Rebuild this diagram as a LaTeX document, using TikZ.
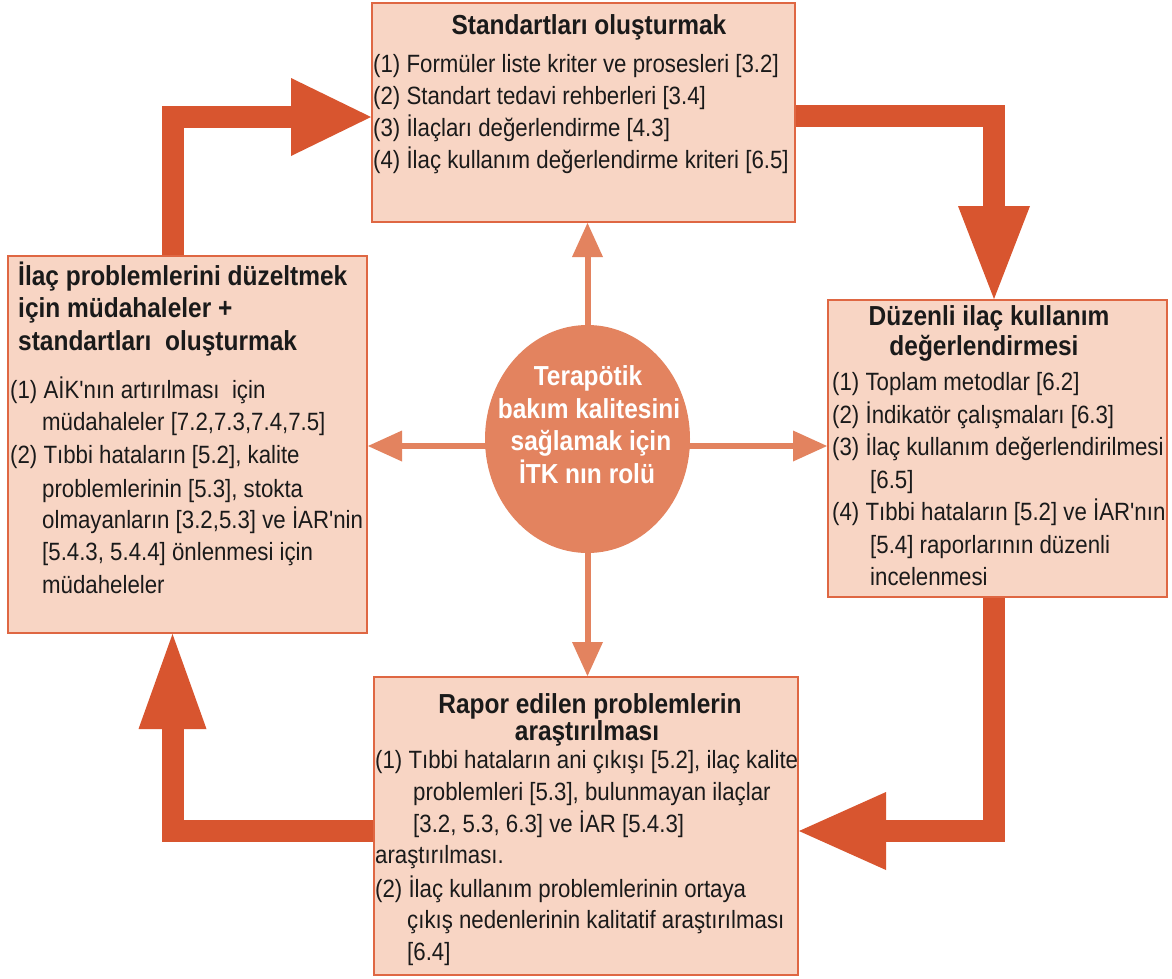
\documentclass[tikz,border=0pt]{standalone}
\usepackage{fontspec}
\newfontfamily\diagfont{Liberation Sans}[FakeStretch=0.89]
\usetikzlibrary{arrows.meta,shapes.geometric}

\definecolor{boxfill}{HTML}{F8D5C4}
\definecolor{boxline}{HTML}{DF6743}
\definecolor{flow}{HTML}{D8552F}
\definecolor{core}{HTML}{E3835F}
\definecolor{ink}{HTML}{1A1A1A}

\tikzset{
  box/.style={rectangle, draw=boxline, line width=2pt, fill=boxfill, inner sep=0pt},
  bodytxt/.style={anchor=base west, inner sep=0pt, text=ink,
    font=\diagfont\fontsize{25}{33}\selectfont},
  headtxt/.style={anchor=base, inner sep=0pt, text=ink,
    font=\diagfont\bfseries\fontsize{27.5}{33}\selectfont},
  headleft/.style={headtxt, anchor=base west},
  coretxt/.style={headtxt, text=white},
  flowarrow/.style 2 args={draw=flow, line width=22pt, line join=miter,
    -{Triangle[length=#1, width=#2, line width=0pt]}},
  linkarrow/.style={draw=core, line width=6pt,
    -{Triangle[length=34pt, width=31pt, line width=0pt]}},
}

\begin{document}
\begin{tikzpicture}[x=1pt, y=-1pt]
  \useasboundingbox (0,0) rectangle (1172,978);
  \fill[white] (0,0) rectangle (1172,978);

  % the four boxes of the cycle
  \node[box, minimum width=423pt, minimum height=219pt] (std) at (583.5,112.5) {};
  \node[box, minimum width=359pt, minimum height=377pt] (fix) at (187.5,444.5) {};
  \node[box, minimum width=339pt, minimum height=297pt] (due) at (997.5,448.5) {};
  \node[box, minimum width=424pt, minimum height=298pt] (rap) at (586,826) {};

  % central role
  \node[ellipse, fill=core, inner sep=0pt, minimum width=205pt, minimum height=228pt] (role) at (587.5,439) {};

  % links from the centre to each box
  \coordinate (hub) at (587.5,446);
  \draw[linkarrow] (hub) -- (hub -| fix.east);
  \draw[linkarrow] (hub) -- (hub -| due.west);
  \draw[linkarrow] (role.center) -- (role.center |- std.south);
  \draw[linkarrow] (role.center) -- (role.center |- rap.north);

  % the cycle arrows
  \coordinate (k1) at (172.5,117);
  \coordinate (k2) at (994,116);
  \coordinate (k3) at (994,831);
  \coordinate (k4) at (172.5,831);
  \draw[flowarrow={80pt}{78pt}] (k1 |- fix.north) -- (k1) -- (k1 -| std.west);
  \draw[flowarrow={93pt}{72pt}] (k2 -| std.east) -- (k2) -- (k2 |- due.north);
  \draw[flowarrow={87pt}{78pt}] (k3 |- due.south) -- (k3) -- (k3 -| rap.east);
  \draw[flowarrow={95pt}{68pt}] (k4 -| rap.west) -- (k4) -- (k4 |- fix.south);

  % centre text
  \node[coretxt] (role-1) at (588,385) {Terapötik};
  \node[coretxt] (role-2) at (589,418) {bakım kalitesini};
  \node[coretxt] (role-3) at (591,450) {sağlamak için};
  \node[coretxt] (role-4) at (587,483) {İTK nın rolü};

  % top box
  \node[headtxt] (std-h) at (589,34) {Standartları oluşturmak};
  \node[bodytxt] (std-1) at (373,72) {(1) Formüler liste kriter ve prosesleri [3.2]};
  \node[bodytxt] (std-2) at (373,104) {(2) Standart tedavi rehberleri [3.4]};
  \node[bodytxt] (std-3) at (373,136) {(3) İlaçları değerlendirme [4.3]};
  \node[bodytxt] (std-4) at (373,168) {(4) İlaç kullanım değerlendirme kriteri [6.5]};

  % left box
  \node[headleft] (fix-h1) at (18,285) {İlaç problemlerini düzeltmek};
  \node[headleft] (fix-h2) at (18,317) {için müdahaleler +};
  \node[headleft] (fix-h3) at (18,350) {standartları\ \ oluşturmak};
  \node[bodytxt] (fix-1) at (10,398) {(1) AİK'nın artırılması\ \ için};
  \node[bodytxt] (fix-2) at (42,430) {müdahaleler [7.2,7.3,7.4,7.5]};
  \node[bodytxt] (fix-3) at (10,463) {(2) Tıbbi hataların [5.2], kalite};
  \node[bodytxt] (fix-4) at (42,497) {problemlerinin [5.3], stokta};
  \node[bodytxt] (fix-5) at (42,528) {olmayanların [3.2,5.3] ve İAR'nin};
  \node[bodytxt] (fix-6) at (42,560) {[5.4.3, 5.4.4] önlenmesi için};
  \node[bodytxt] (fix-7) at (42,593) {müdaheleler};

  % right box
  \node[headtxt] (due-h1) at (989,325) {Düzenli ilaç kullanım};
  \node[headtxt] (due-h2) at (984,355) {değerlendirmesi};
  \node[bodytxt] (due-1) at (832,390) {(1) Toplam metodlar [6.2]};
  \node[bodytxt] (due-2) at (832,423) {(2) İndikatör çalışmaları [6.3]};
  \node[bodytxt] (due-3) at (832,455) {(3) İlaç kullanım değerlendirilmesi};
  \node[bodytxt] (due-4) at (870,488) {[6.5]};
  \node[bodytxt] (due-5) at (832,520) {(4) Tıbbi hataların [5.2] ve İAR'nın};
  \node[bodytxt] (due-6) at (870,553) {[5.4] raporlarının düzenli};
  \node[bodytxt] (due-7) at (870,585) {incelenmesi};

  % bottom box
  \node[headtxt] (rap-h1) at (590,713) {Rapor edilen problemlerin};
  \node[headtxt] (rap-h2) at (587,740) {araştırılması};
  \node[bodytxt] (rap-1) at (375,768) {(1) Tıbbi hataların ani çıkışı [5.2], ilaç kalite};
  \node[bodytxt] (rap-2) at (413,800) {problemleri [5.3], bulunmayan ilaçlar};
  \node[bodytxt] (rap-3) at (413,832) {[3.2, 5.3, 6.3] ve İAR [5.4.3]};
  \node[bodytxt] (rap-4) at (375,863) {araştırılması.};
  \node[bodytxt] (rap-5) at (375,897) {(2) İlaç kullanım problemlerinin ortaya};
  \node[bodytxt] (rap-6) at (407,928) {çıkış nedenlerinin kalitatif araştırılması};
  \node[bodytxt] (rap-7) at (407,960) {[6.4]};
\end{tikzpicture}
\end{document}
